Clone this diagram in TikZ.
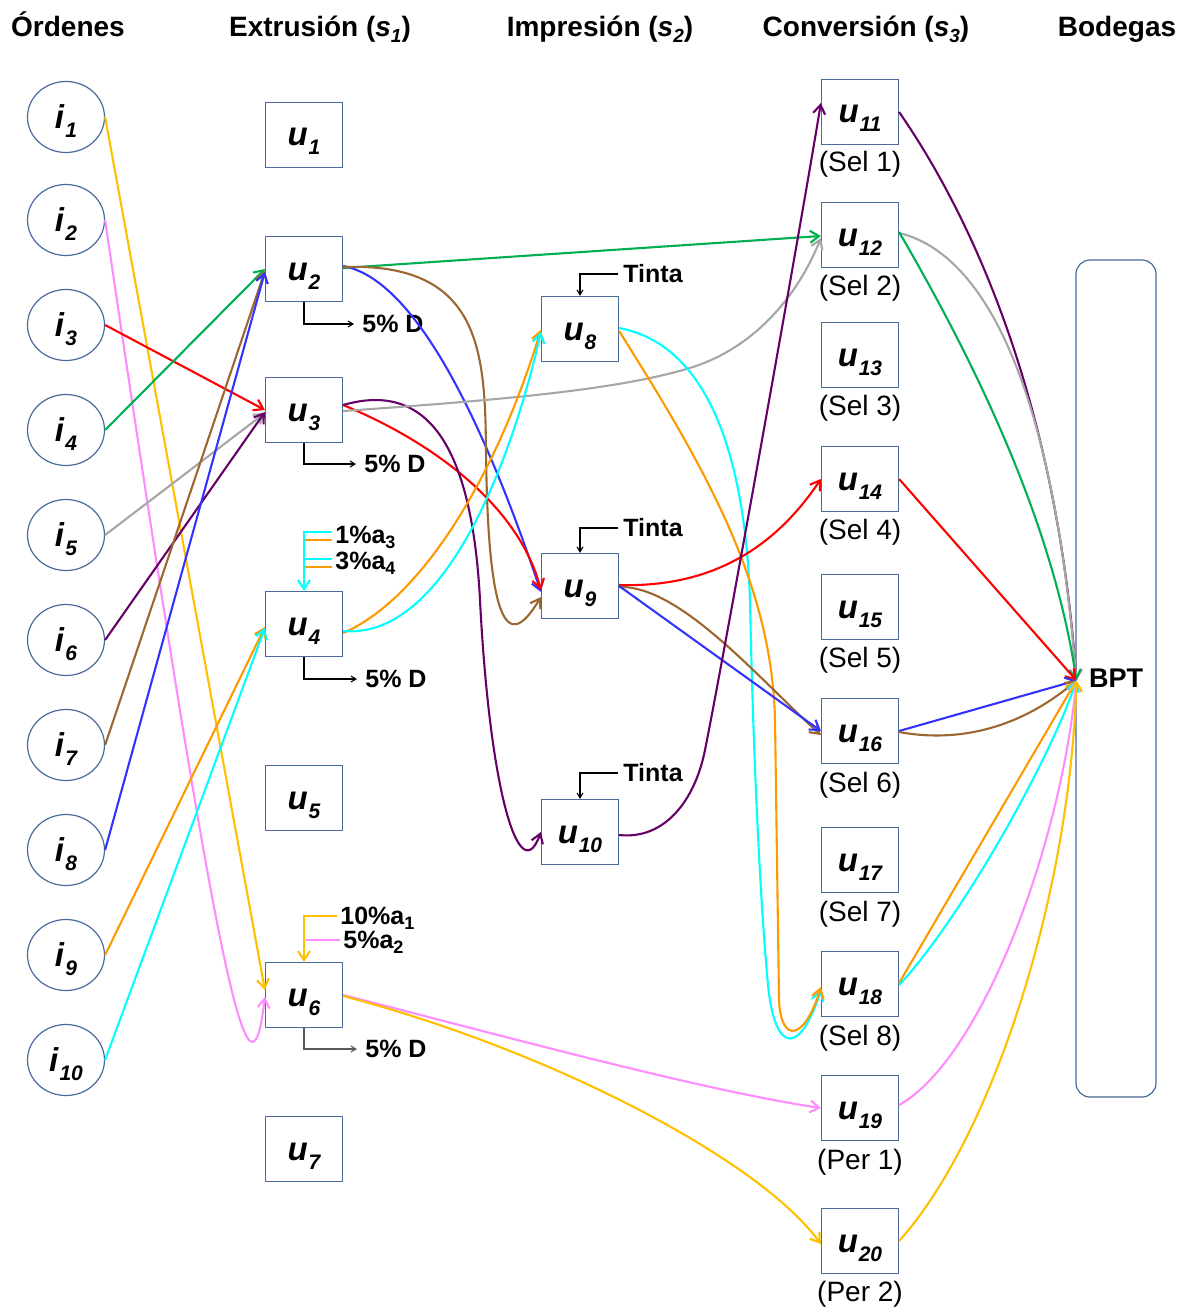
\documentclass[tikz,border=0pt]{standalone}
\usepackage{fontspec}
\setmainfont{Liberation Sans}
\usetikzlibrary{arrows.meta,shapes.geometric,calc}
\definecolor{boxc}{HTML}{4A6A9A}
\definecolor{cGold}{HTML}{FFC000}
\definecolor{cPink}{HTML}{FF8CFF}
\definecolor{cRed}{HTML}{FF0000}
\definecolor{cGreen}{HTML}{00B050}
\definecolor{cGray}{HTML}{A6A6A6}
\definecolor{cPurple}{HTML}{660066}
\definecolor{cBrown}{HTML}{9C6630}
\definecolor{cBlue}{HTML}{3333FF}
\definecolor{cOrange}{HTML}{FF9900}
\definecolor{cCyan}{HTML}{00FFFF}
\newcommand{\myU}[1]{u\kern0.4pt\raisebox{-4.5pt}{\fontsize{10.5}{10.5}\selectfont #1}}
\newcommand{\myI}[1]{i\kern0.6pt\raisebox{-4.5pt}{\fontsize{10.5}{10.5}\selectfont #1}}
\newcommand{\hsub}[2]{\textit{#1}\raisebox{-3pt}{\fontsize{9.5}{9.5}\selectfont\itshape #2}}
\newcommand{\asub}[1]{\raisebox{-2.5pt}{\fontsize{9}{9}\selectfont #1}}
\begin{document}
\begin{tikzpicture}[x=0.5pt,y=-0.5pt,
  ubox/.style={draw=boxc, line width=0.6pt, minimum width=38.5pt, minimum height=32.5pt,
    inner sep=0pt, text height=15.5pt, text depth=4.5pt,
    font=\fontsize{16.5}{16.5}\selectfont\bfseries\itshape},
  ibox/.style={ellipse, draw=boxc, line width=0.6pt, minimum width=38.5pt, minimum height=35.5pt,
    inner sep=0pt, text height=15.5pt, text depth=4.5pt,
    font=\fontsize{16.5}{16.5}\selectfont\bfseries\itshape},
  hdr/.style={font=\fontsize{14}{14}\selectfont\bfseries, anchor=base, inner sep=0pt},
  sel/.style={font=\fontsize{14}{14}\selectfont, inner sep=0pt},
  dlab/.style={font=\fontsize{12.5}{12.5}\selectfont\bfseries, anchor=west, inner sep=4pt},
  tlab/.style={font=\fontsize{12.5}{12.5}\selectfont\bfseries, anchor=west, inner sep=2.5pt},
  alab/.style={font=\fontsize{12.5}{12.5}\selectfont\bfseries, anchor=west, inner sep=1.5pt},
  flow/.style={line width=1.05pt, -{Straight Barb[length=4.5pt,width=6pt]}},
  plain/.style={line width=1.05pt},
  tick/.style={line width=0.55pt, -{Straight Barb[length=2.5pt,width=3pt]}}
]
\useasboundingbox (0,0) rectangle (1188,1311);

% headers
\node[hdr] (h1) at (68,37) {Órdenes};
\node[hdr] (h2) at (320,37) {Extrusión (\hsub{s}{1})};
\node[hdr] (h3) at (600,37) {Impresión (\hsub{s}{2})};
\node[hdr] (h4) at (866,37) {Conversión (\hsub{s}{3})};
\node[hdr] (h5) at (1117,37) {Bodegas};

% orders
\foreach \k/\yy in {1/117,2/220,3/325,4/430,5/535,6/640,7/745,8/850,9/955,10/1060}
  \node[ibox] (i\k) at (66,\yy) {\myI{\k}};

% extrusion
\foreach \k/\yy in {1/135,2/269,3/410,4/624,5/798,6/995,7/1149}
  \node[ubox] (u\k) at (304,\yy) {\myU{\k}};
% printing
\foreach \k/\yy in {8/329,9/586,10/832}
  \node[ubox] (u\k) at (580,\yy) {\myU{\k}};
% conversion
\foreach \k/\yy in {11/112,12/235,13/355,14/479,15/607,16/731,17/860,18/984,19/1108,20/1241}
  \node[ubox] (u\k) at (860,\yy) {\myU{\k}};

\node[sel] (l11) at (860,164) {(Sel 1)};
\node[sel] (l12) at (860,288) {(Sel 2)};
\node[sel] (l13) at (860,408) {(Sel 3)};
\node[sel] (l14) at (860,532) {(Sel 4)};
\node[sel] (l15) at (860,660) {(Sel 5)};
\node[sel] (l16) at (860,785) {(Sel 6)};
\node[sel] (l17) at (860,914) {(Sel 7)};
\node[sel] (l18) at (860,1038) {(Sel 8)};
\node[sel] (l19) at (860,1162) {(Per 1)};
\node[sel] (l20) at (860,1294) {(Per 2)};

% warehouse
\node[draw=boxc, line width=0.6pt, rounded corners=7pt, minimum width=40pt, minimum height=418.5pt,
  font=\fontsize{13.5}{13.5}\selectfont\bfseries] (bpt) at (1116,678.5) {BPT};
\coordinate (bp) at ($(bpt.west)+(1,2)$);

% waste labels
\node[dlab] (d2) at (354,324) {5\% D};
\node[dlab] (d3) at (356,464) {5\% D};
\node[dlab] (d4) at (357,679) {5\% D};
\node[dlab] (d6) at (357,1049) {5\% D};
\draw[tick] (u2.south) |- (d2.west);
\draw[tick] (u3.south) |- (d3.west);
\draw[tick] (u4.south) |- (d4.west);
\draw[tick, black!65] (u6.south) |- (d6.west);

% ink
\node[tlab] (t8) at (618,274) {Tinta};
\node[tlab] (t9) at (618,528) {Tinta};
\node[tlab] (t10) at (618,773) {Tinta};
\draw[tick] (t8.west) -| (u8.north);
\draw[tick] (t9.west) -| (u9.north);
\draw[tick] (t10.west) -| (u10.north);

% additives
\node[alab] (a3) at (332,537) {1\%a\asub{3}};
\node[alab] (a4) at (332,563) {3\%a\asub{4}};
\node[alab] (a1) at (337,918) {10\%a\asub{1}};
\node[alab] (a2) at (340,942) {5\%a\asub{2}};
\draw[flow, cCyan] ($(a3.west)+(0,-5)$) -| (u4.north);
\draw[plain, cOrange] ($(a3.west)+(0,3)$) -- ($(u4.north|-a3.west)+(1,3)$);
\draw[plain, cCyan] ($(a4.west)+(0,-4)$) -- ($(u4.north|-a4.west)+(1,-4)$);
\draw[plain, cOrange] ($(a4.west)+(0,4)$) -- ($(u4.north|-a4.west)+(1,4)$);
\draw[flow, cGold] ($(a1.west)+(0,-2)$) -| (u6.north);
\draw[plain, cPink] ($(a2.west)+(0,-2)$) -- ($(u6.north|-a2.west)+(2,-2)$);

% orders -> extrusion
\draw[flow,cGold] (i1.east) -- ($(u6.west)+(0,-5)$);
\draw[flow,cPink] (i2.east) .. controls (220,1000) and (250,1125) .. ($(u6.west)+(0,2)$);
\draw[flow,cRed] (i3.east) -- (u3.west);
\draw[flow,cGreen] (i4.east) -- (u2.west);
\draw[flow,cGray] (i5.east) -- ($(u3.west)+(0,3)$);
\draw[flow,cPurple] (i6.east) -- ($(u3.west)+(0,2)$);
\draw[flow,cBrown] (i7.east) -- ($(u2.west)+(0,2)$);
\draw[flow,cBlue] (i8.east) -- ($(u2.west)+(0,3)$);
\draw[flow,cOrange] (i9.east) -- ($(u4.west)+(0,3)$);
\draw[flow,cCyan] (i10.east) -- ($(u4.west)+(0,4)$);

% extrusion -> next
\draw[flow,cGreen] ($(u2.east)+(0,-1)$) -- ($(u12.west)+(0,1)$);
\draw[flow,cBlue] ($(u2.east)+(0,-3)$) .. controls (420,280) and (490,440) .. ($(u9.west)+(0,6)$);
\draw[flow,cBrown] ($(u2.east)+(0,-2)$) .. controls (480,262) and (485,350) .. (486,450)
   .. controls (488,655) and (515,640) .. ($(u9.west)+(0,11)$);
\draw[flow,cRed] ($(u3.east)+(0,-5)$) .. controls (440,445) and (520,510) .. ($(u9.west)+(0,4)$);
\draw[flow,cPurple] ($(u3.east)+(0,-5)$) .. controls (430,380) and (472,450) .. (480,600)
   .. controls (490,795) and (520,890) .. (u10.west);
\draw[flow,cGray] ($(u3.east)+(0,1)$) .. controls (500,400) and (620,390) .. (693,367)
   .. controls (760,345) and (800,290) .. ($(u12.west)+(0,3)$);
\draw[flow,cOrange] ($(u4.east)+(0,9)$) .. controls (420,600) and (495,480) .. ($(u8.west)+(0,1)$);
\draw[flow,cCyan] ($(u4.east)+(0,7)$) .. controls (445,640) and (512,460) .. ($(u8.west)+(0,3)$);
\draw[flow,cPink] (u6.east) .. controls (500,1035) and (700,1090) .. (u19.west);
\draw[flow,cGold] ($(u6.east)+(0,1)$) .. controls (550,1050) and (760,1160) .. ($(u20.west)+(0,3)$);

% printing -> conversion
\draw[flow,cCyan] ($(u8.east)+(0,-1)$) .. controls (710,345) and (745,460) .. (750,600)
   .. controls (753,750) and (760,900) .. (768,985)
   .. controls (775,1055) and (800,1055) .. ($(u18.west)+(0,6)$);
\draw[flow,cOrange] ($(u8.east)+(0,2)$) .. controls (700,460) and (772,580) .. (775,720)
   -- (779,1000) .. controls (781,1045) and (805,1040) .. ($(u18.west)+(0,3)$);
\draw[flow,cRed] ($(u9.east)+(0,-1)$) .. controls (720,588) and (780,540) .. (u14.west);
\draw[flow,cBrown] ($(u9.east)+(0,1)$) .. controls (680,585) and (760,680) .. ($(u16.west)+(0,4)$);
\draw[flow,cBlue] (u9.east) -- (u16.west);
\draw[flow,cPurple] ($(u10.east)+(0,3)$) .. controls (665,840) and (695,800) .. (705,750)
   .. controls (725,650) and (800,230) .. ($(u11.west)+(0,-9)$);

% conversion -> warehouse
\draw[flow,cPurple] (u11.east) .. controls (960,200) and (1055,380) .. (bp);
\draw[flow,cGray] ($(u12.east)+(0,-2)$) .. controls (970,250) and (1050,350) .. (bp);
\draw[flow,cGreen] ($(u12.east)+(0,-3)$) .. controls (950,320) and (1050,500) .. (bp);
\draw[flow,cRed] (u14.east) -- (bp);
\draw[flow,cBlue] (u16.east) -- (bp);
\draw[flow,cBrown] ($(u16.east)+(0,1)$) .. controls (970,745) and (1030,720) .. (bp);
\draw[flow,cOrange] ($(u18.east)+(0,-1)$) -- (bp);
\draw[flow,cCyan] ($(u18.east)+(0,1)$) .. controls (960,920) and (1050,760) .. (bp);
\draw[flow,cPink] ($(u19.east)+(0,-3)$) .. controls (980,1060) and (1060,850) .. (bp);
\draw[flow,cGold] (u20.east) .. controls (990,1140) and (1070,900) .. (bp);
\end{tikzpicture}
\end{document}
